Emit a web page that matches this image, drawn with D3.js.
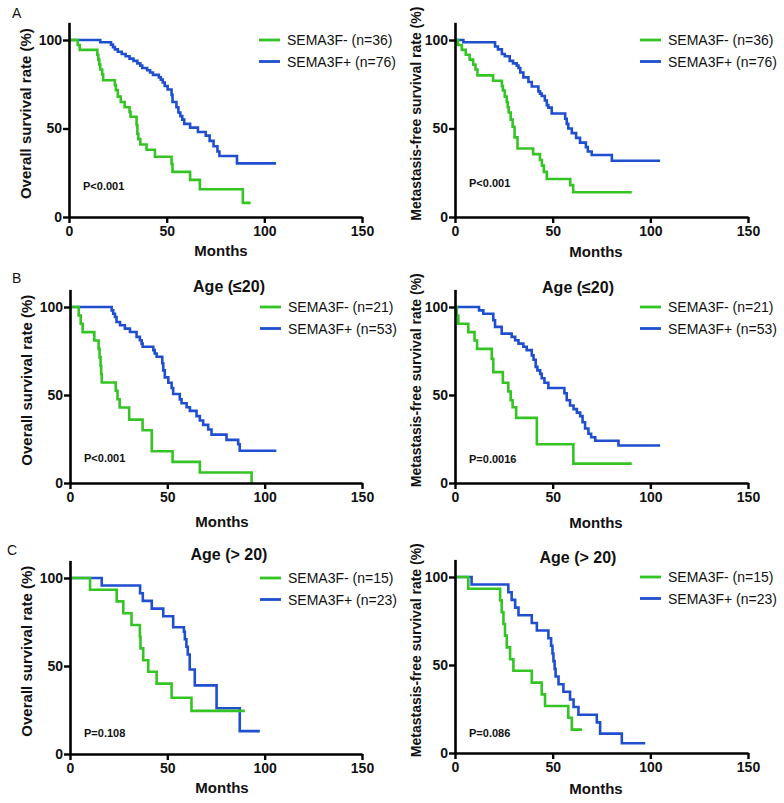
<!DOCTYPE html>
<html><head><meta charset="utf-8">
<script src="https://cdn.jsdelivr.net/npm/d3@7"></script>
<style>
html,body{margin:0;padding:0;background:#fff;}
svg{display:block;font-family:"Liberation Sans",Arial,sans-serif;}
</style></head><body>
<svg id="c" width="784" height="803"></svg>
<script>
// ---------- data: [month, survival %] step points ----------
const xTicks = [0, 50, 100, 150];
const yTicks = [0, 50, 100];
const seriesNames = ["SEMA3F-", "SEMA3F+"];

const osAllNeg = [[0,100],[4.5,97.2],[5.5,94.4],[14.5,91.7],[15,88.9],[15.5,86.1],[16,83.3],[17,80.6],[17.5,77.3],[23.5,74.5],[24,71.7],[25,68],[26.5,65],[28.5,62],[31,59.4],[31.5,56.6],[34.6,52],[35,47],[35.5,44],[36.5,41],[39.7,38],[44,34],[52.5,30],[53,25.5],[62,21],[67,15.7],[89,8],[93,8]];
const osAllPos = [[0,100],[16,98.7],[21.5,97.4],[22.5,96],[23.5,94.7],[25,93.4],[27,92.1],[29,90.8],[31,89.5],[33,88.2],[35,86.8],[36.5,85.5],[37.5,84.2],[40,82.9],[41.5,81.6],[43,80.3],[46,78.9],[47,77.6],[48,76],[49,74],[50.5,72],[52.5,69],[53,65],[55,62],[56,59],[57,57],[58,55],[59,52.6],[62,50.5],[66,48],[70,46],[72,43],[74,40],[76,37],[77,34.5],[86,30.3],[106,30.3]];
const mfsAllNeg = [[0,100],[1.5,97.2],[3.5,94.4],[5.5,91.7],[7.5,88.9],[9.3,86.1],[10.5,83.3],[11.5,80],[19.5,77],[24,74],[24.5,71.5],[25.5,68],[26.5,65],[27,62],[27.5,59],[28.5,55],[29.5,51],[30.5,45],[32,38.7],[40,35.5],[43.5,32.2],[44.5,29],[45.5,25.5],[47,21.5],[59,18],[60.5,14],[90.5,14]];
const mfsAllPos = [[0,100],[4.3,98.7],[20.5,96.3],[22,94.7],[24,92.1],[25.5,90.8],[28,88.2],[29.7,86.8],[31.6,85.5],[32.5,84.2],[33.4,81.6],[35,78.9],[37.6,76.3],[39.3,73.7],[42.7,71],[43.5,69.7],[44.4,68.4],[46,65.8],[47,63.2],[47.8,61.8],[49.5,58.5],[56.4,55.5],[57.2,52.6],[58,50],[59.8,47.4],[62,44.7],[64,42],[67,39.5],[68,37],[70,35],[80.3,31.8],[105,31.8]];
const osYoungNeg = [[0,100],[4.5,95.2],[5.5,90.5],[6.5,85.7],[12.5,81],[14.7,76.2],[15.2,71.4],[15.7,66.7],[16,61.9],[16.3,57.1],[23.5,52.4],[24.4,47.6],[25.5,42.9],[30.4,36],[37.3,30],[42,18],[52.7,12],[66.7,6],[93.3,0]];
const osYoungPos = [[0,100],[21.4,98.1],[22.2,96.2],[23.1,94.3],[23.9,91.5],[25.7,89.6],[28.2,87.7],[30.8,85.8],[34.2,83],[35.9,81.1],[36.8,79.2],[37.3,77.4],[42.8,75.5],[43.5,73.6],[44.5,71.7],[47.4,68],[47.9,64],[48.7,60],[50.5,57],[52.2,54],[53,50.6],[56.4,47.5],[57.3,45.3],[59.9,43],[61.6,41],[65,38],[66.7,35.5],[68.4,33],[71,30.4],[72.7,27.5],[80.4,24.5],[86.4,22],[87.2,18.3],[106,18.3]];
const mfsYoungNeg = [[0,100],[0.9,95.2],[1.7,90.5],[6.8,85.7],[10,81],[11.3,76.2],[18.8,70.5],[19.6,63],[24.5,57],[27.3,52],[28.5,47],[29.5,43],[31.3,37],[41.9,22],[60.6,11],[90.5,11]];
const mfsYoungPos = [[0,100],[12.3,98.1],[14.5,96.2],[19.6,92.5],[20.5,88.7],[23.9,84.9],[29,83],[30.8,81.1],[32.5,79.2],[35,77.4],[36.7,75.5],[39.3,72.5],[40.2,70],[41.3,66],[42.2,64],[43.6,62],[44.4,59.5],[45.8,57],[47.8,54],[56,51],[57.2,47],[58.9,44],[60.7,42],[62.4,40],[64.1,38],[65.3,34.5],[66.6,31],[68.3,28],[69.7,26],[71.8,24],[83.7,21.3],[105,21.3]];
const osOldNeg = [[0,100],[10.3,93.3],[24,86.7],[27.4,80],[31.6,73.3],[35.9,66.7],[36.2,60],[37.6,53.3],[40.2,46.7],[44.5,40],[52.2,32],[62.4,24.5],[89.8,24.5]];
const osOldPos = [[0,100],[16.3,95.7],[36,91.3],[37.4,87],[42,82.6],[47.9,78.3],[53,72],[58.5,69.5],[59,65.2],[59.8,60.9],[60.5,56.5],[61.5,48],[64.1,39],[75.3,26],[87.2,13],[97.5,13]];
const mfsOldNeg = [[0,100],[6.8,93.3],[23.1,86.7],[23.9,80],[24.8,73.3],[25.6,66.7],[26.5,60],[28.2,53.3],[29.9,46.7],[39.3,40],[44.4,33.3],[46.1,26.7],[58,20],[59.8,13.3],[65,13.3]];
const mfsOldPos = [[0,100],[8.5,95.7],[27.3,91.3],[29,87],[30.8,82.6],[32.5,78.3],[39.3,73.9],[41.9,69.6],[47.8,65.2],[49.2,60.9],[49.9,56.5],[50.4,52.2],[51,47.8],[51.5,43.5],[53,39.1],[55.5,34.8],[58.9,30.4],[60.7,26.1],[63.2,21.7],[72.6,17.4],[74.3,11],[85.4,5.5],[97.4,5.5]];

const nNeg = [36, 21, 15];
const nPos = [76, 53, 23];
const pValues = ["P<0.001", "P<0.001", "P<0.001", "P=0.0016", "P=0.108", "P=0.086"];
const groupTitles = [null, "Age (\u226420)", "Age (> 20)"];
const rowLetters = ["A", "B", "C"];
const yTitles = ["Overall survival rate (%)", "Metastasis-free survival rate (%)"];

// ---------- layout ----------
const GREEN = "#34c424", BLUE = "#1f4fcf";
const svg = d3.select("#c");

const panels = [
  {row:0,col:0,neg:osAllNeg,pos:osAllPos,x0:69,x1:362,y0:217,y100:40,pDy:27,mDy:39,tDy:0},
  {row:0,col:1,neg:mfsAllNeg,pos:mfsAllPos,x0:455,x1:748,y0:217,y100:40,pDy:30,mDy:40,tDy:0},
  {row:1,col:0,neg:osYoungNeg,pos:osYoungPos,x0:70,x1:362,y0:483,y100:307,pDy:21,mDy:44,tDy:15},
  {row:1,col:1,neg:mfsYoungNeg,pos:mfsYoungPos,x0:455,x1:748,y0:483,y100:307,pDy:20,mDy:45,tDy:14},
  {row:2,col:0,neg:osOldNeg,pos:osOldPos,x0:70,x1:362,y0:754,y100:578,pDy:17,mDy:39,tDy:18},
  {row:2,col:1,neg:mfsOldNeg,pos:mfsOldPos,x0:455,x1:748,y0:753,y100:577,pDy:16,mDy:41,tDy:14}
];

const letterPos = [[12,18],[12,283],[7,555]];
rowLetters.forEach((L,i)=>{
  svg.append("text").attr("x",letterPos[i][0]).attr("y",letterPos[i][1])
    .attr("font-size",14).attr("fill","#111").text(L);
});

panels.forEach((p,i)=>{
  const yTop = p.y0 - 110*(p.y0-p.y100)/100;
  const x = d3.scaleLinear().domain([0,150]).range([p.x0,p.x1]);
  const y = d3.scaleLinear().domain([0,110]).range([p.y0,yTop]);
  const g = svg.append("g");

  const line = d3.line().curve(d3.curveStepAfter).x(d=>x(d[0])).y(d=>y(d[1]));
  g.append("path").datum(p.pos).attr("d",line).attr("fill","none")
    .attr("stroke",BLUE).attr("stroke-width",2.6);
  g.append("path").datum(p.neg).attr("d",line).attr("fill","none")
    .attr("stroke",GREEN).attr("stroke-width",2.6);

  const ax = g.append("g").attr("transform",`translate(0,${p.y0})`)
    .call(d3.axisBottom(x).tickValues(xTicks).tickSize(6).tickSizeOuter(0).tickPadding(3));
  const ay = g.append("g").attr("transform",`translate(${p.x0},0)`)
    .call(d3.axisLeft(y).tickValues(yTicks).tickSize(6).tickSizeOuter(0).tickPadding(1));
  [ax,ay].forEach(a=>{
    a.select(".domain").attr("stroke","#000").attr("stroke-width",2.6);
    a.selectAll(".tick line").attr("stroke","#000").attr("stroke-width",2.4);
    a.selectAll(".tick text").attr("font-size",14).attr("font-weight","bold")
      .attr("fill","#111").attr("font-family","Liberation Sans, Arial, sans-serif");
  });

  // axis titles
  const mx = p.col===0 ? p.x0+152 : p.x0+141;
  g.append("text").attr("x",mx).attr("y",p.y0+p.mDy).attr("text-anchor","middle")
    .attr("font-size",15).attr("font-weight","bold").attr("fill","#111").text("Months");
  const tx = p.col===0 ? p.x0-38 : p.x0-34;
  const ty = (p.y0+yTop)/2 - 6;
  g.append("text").attr("transform",`translate(${tx},${ty}) rotate(-90)`)
    .attr("text-anchor","middle").attr("font-size",p.col===0?15:14).attr("font-weight","bold")
    .attr("fill","#111").text(yTitles[p.col]);

  // p value
  g.append("text").attr("x",p.x0+14).attr("y",p.y0-p.pDy).attr("font-size",11)
    .attr("font-weight","bold").attr("fill","#111").text(pValues[i]);

  // title
  if (groupTitles[p.row]) {
    const cx = p.col===0 ? p.x0+159 : p.x0+123;
    g.append("text").attr("x",cx).attr("y",p.y100-p.tDy).attr("text-anchor","middle")
      .attr("font-size",16).attr("font-weight","bold").attr("fill","#111").text(groupTitles[p.row]);
  }

  // legend
  const lx0 = p.col===0 ? p.x0+190 : p.x0+185;
  const labels = [`${seriesNames[0]} (n=${nNeg[p.row]})`, `${seriesNames[1]} (n=${nPos[p.row]})`];
  [GREEN,BLUE].forEach((c,k)=>{
    const ly = p.y100 + k*21.5;
    g.append("line").attr("x1",lx0).attr("x2",lx0+21).attr("y1",ly).attr("y2",ly)
      .attr("stroke",c).attr("stroke-width",2.8);
    g.append("text").attr("x",lx0+28).attr("y",ly).attr("dy","0.36em")
      .attr("font-size",14).attr("fill","#111").text(labels[k]);
  });
});
</script></body></html>
